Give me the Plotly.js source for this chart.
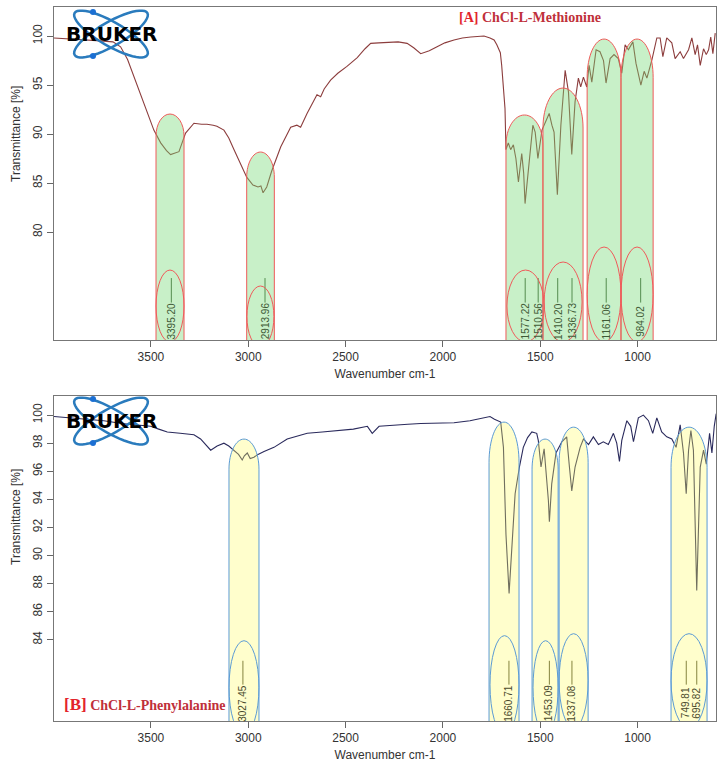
<!DOCTYPE html>
<html>
<head>
<meta charset="utf-8">
<script src="https://cdn.plot.ly/plotly-3.0.1.min.js"></script>
<style>
  html, body { margin: 0; padding: 0; background: #fff; }
  #chart { width: 719px; height: 762px; }
</style>
</head>
<body>
<div id="chart"></div>
<script>
// [A] ChCl-L-Methionine spectrum (wavenumber cm-1 / transmittance %)
const wnA = [3998, 3900, 3760, 3695, 3656, 3620, 3587, 3536, 3485, 3450, 3420, 3399, 3380, 3356, 3322, 3279,
  3240, 3212, 3180, 3161, 3125, 3100, 3073, 3040, 3008, 2976, 2950, 2935, 2924, 2905, 2880, 2833, 2782, 2750,
  2731, 2698, 2647, 2628, 2610, 2577, 2540, 2493, 2440, 2400, 2371, 2330, 2287, 2230, 2184, 2150, 2114, 2070,
  2030, 1990, 1943, 1900, 1857, 1820, 1789, 1758, 1737, 1723, 1705, 1698, 1690, 1681, 1676, 1664, 1652, 1638,
  1625, 1612, 1595, 1585, 1578, 1561, 1538, 1526, 1512, 1491, 1474, 1454, 1440, 1429, 1412, 1394, 1372, 1355,
  1338, 1321, 1304, 1292, 1278, 1261, 1249, 1235, 1213, 1193, 1175, 1162, 1141, 1121, 1099, 1081, 1064, 1047,
  1024, 1008, 983, 966, 952, 926, 901, 884, 870, 850, 824, 807, 781, 764, 738, 721, 704, 692, 678, 661, 647,
  635, 624, 613, 601];
const tA = [99.8, 99.7, 99.5, 99.4, 98.9, 97.6, 95.8, 93.2, 90.4, 89.1, 88.3, 87.9, 88.0, 88.2, 90.1, 91.1,
  91.0, 91.0, 90.9, 90.8, 90.4, 89.6, 88.4, 87.0, 85.6, 84.8, 84.6, 84.7, 84.0, 84.6, 86.2, 88.7, 90.7, 90.9,
  90.7, 92.1, 94.0, 93.8, 94.6, 95.5, 96.2, 96.9, 97.8, 98.7, 99.25, 99.3, 99.35, 99.4, 99.25, 98.8, 98.2, 98.5,
  98.9, 99.3, 99.6, 99.8, 99.9, 99.95, 100.0, 99.8, 99.6, 99.1, 98.3, 97.0, 94.8, 92.6, 88.4, 89.1, 88.4, 88.9,
  87.5, 85.1, 88.0, 86.0, 82.9, 86.2, 90.9, 90.2, 87.5, 90.4, 91.1, 92.1, 90.9, 90.2, 83.8, 90.9, 96.5, 94.3,
  87.9, 93.3, 95.7, 94.8, 95.8, 94.8, 97.0, 95.3, 98.6, 98.4, 97.5, 95.2, 97.7, 98.1, 97.7, 96.2, 99.1, 98.6,
  99.4, 97.2, 95.0, 96.4, 95.7, 97.6, 99.8, 99.8, 97.9, 99.8, 99.3, 97.7, 98.4, 97.7, 98.6, 99.8, 98.1, 99.1,
  97.0, 98.7, 98.1, 98.6, 99.9, 98.2, 100.3];

// [B] ChCl-L-Phenylalanine spectrum
const wnB = [3998, 3900, 3742, 3650, 3580, 3502, 3460, 3416, 3350, 3279, 3245, 3193, 3160, 3125, 3100, 3073,
  3050, 3031, 3020, 3005, 2990, 2971, 2950, 2919, 2868, 2800, 2750, 2697, 2620, 2543, 2460, 2388, 2363, 2328,
  2250, 2180, 2114, 2030, 1943, 1861, 1800, 1772, 1758, 1735, 1715, 1703, 1689, 1676, 1660, 1646, 1629, 1607,
  1587, 1565, 1543, 1518, 1510, 1496, 1480, 1458, 1453, 1441, 1419, 1389, 1364, 1350, 1338, 1321, 1295, 1278,
  1252, 1227, 1201, 1176, 1150, 1124, 1107, 1093, 1081, 1055, 1035, 1021, 996, 970, 944, 922, 901, 876, 850,
  824, 802, 781, 764, 750, 738, 726, 713, 696, 678, 661, 647, 630, 618, 606, 596];
const tB = [99.9, 99.8, 99.6, 99.4, 99.3, 99.2, 99.0, 98.8, 98.7, 98.6, 98.3, 97.5, 97.8, 98.0, 97.8, 97.5,
  97.2, 96.8, 97.1, 97.3, 96.9, 97.0, 97.2, 97.4, 97.7, 98.3, 98.5, 98.7, 98.8, 98.9, 99.0, 99.2, 98.7, 99.2,
  99.3, 99.35, 99.4, 99.4, 99.45, 99.6, 99.8, 99.9, 99.9, 99.7, 99.6, 99.5, 97.7, 91.5, 87.3, 90.4, 94.4, 96.3,
  97.7, 98.4, 98.8, 98.7, 98.2, 96.3, 97.6, 93.9, 92.4, 95.1, 97.3, 98.1, 98.45, 96.3, 94.6, 96.3, 97.7, 98.3,
  97.9, 98.45, 97.9, 98.1, 97.9, 98.7, 98.0, 96.7, 98.2, 99.6, 99.2, 98.1, 99.8, 100.0, 99.6, 98.7, 99.8, 98.8, 98.45,
  98.3, 97.7, 99.3, 97.3, 94.4, 97.5, 98.9, 97.5, 87.5, 96.3, 97.5, 96.5, 98.7, 97.3, 99.2, 100.1];

// labelled peaks
const peaksA = [3395.20, 2913.96, 1577.22, 1510.56, 1410.20, 1336.73, 1161.06, 984.02];
const peaksB = [3027.45, 1660.71, 1453.09, 1337.08, 749.81, 695.82];

const xTicks = [3500, 3000, 2500, 2000, 1500, 1000];
const yTicksA = [80, 85, 90, 95, 100];
const yTicksB = [84, 86, 88, 90, 92, 94, 96, 98, 100];

// highlight bands: [left wn, right wn, top, cap height] and label ovals: [left, right, top, bottom]
const bandsA = [[3474, 3330, 92.04, 2.24], [3008, 2866, 88.16, 2.55], [1676, 1486, 91.94, 3.06],
  [1486, 1280, 94.69, 4.08], [1259, 1085, 99.69, 3.9], [1085, 920, 99.69, 3.9]];
const ovalsA = [[3474, 3330, 76.12, 68.78], [3007, 2868, 74.49, 68.27], [1671, 1480, 76.12, 68.78],
  [1480, 1285, 76.94, 68.78], [1259, 1085, 78.47, 68.78], [1085, 920, 78.47, 68.78]];
const bandsB = [[3099, 2945, 98.29, 2.14], [1763, 1609, 99.5, 2.86], [1542, 1408, 98.29, 2.14],
  [1403, 1254, 99.14, 2.5], [828, 643, 99.14, 2.86]];
const ovalsB = [[3099, 2945, 83.93, 77.29], [1758, 1609, 84.29, 77.29], [1537, 1408, 83.93, 77.29],
  [1403, 1254, 84.43, 77.71], [828, 643, 84.43, 77.71]];

const FONT = 'Liberation Sans, Arial, sans-serif';
const PLOT = { l: 54, t: 7, w: 662, h: 714 };

// pixel -> paper helpers for the logo decoration
const px = x => (x - PLOT.l) / PLOT.w;
const py = y => 1 - (y - PLOT.t) / PLOT.h;

function pill(b, xref, yref, yBot, fill, line) {
  const [x0, x1, yTop, cap] = b;
  const k = 0.5523, xm = (x0 + x1) / 2, yc = yTop - cap;
  const path = `M${x0},${yBot} L${x0},${yc} C${x0},${yc + k * cap} ${xm + (x0 - xm) * k},${yTop} ${xm},${yTop} ` +
    `C${xm + (x1 - xm) * k},${yTop} ${x1},${yc + k * cap} ${x1},${yc} L${x1},${yBot} Z`;
  return { type: 'path', xref, yref, path, fillcolor: fill, line: { color: line, width: 1 }, layer: 'above' };
}

function oval(o, xref, yref, line) {
  return { type: 'circle', xref, yref, x0: o[0], x1: o[1], y0: o[3], y1: o[2],
    fillcolor: 'rgba(0,0,0,0)', line: { color: line, width: 1 }, layer: 'above' };
}

function orbit(cx, cy, a, b, angDeg) {
  const r = angDeg * Math.PI / 180;
  let d = '';
  for (let i = 0; i <= 48; i++) {
    const t = i / 48 * 2 * Math.PI;
    const x = cx + a * Math.cos(t) * Math.cos(r) - b * Math.sin(t) * Math.sin(r);
    const y = cy + a * Math.cos(t) * Math.sin(r) + b * Math.sin(t) * Math.cos(r);
    d += (i ? ' L' : 'M') + px(x).toFixed(4) + ',' + py(y).toFixed(4);
  }
  return { type: 'path', xref: 'paper', yref: 'paper', path: d + ' Z',
    line: { color: '#2a7bbd', width: 2.5 }, layer: 'above' };
}

function dot(x, y) {
  return { type: 'circle', xref: 'paper', yref: 'paper', x0: px(x - 3), x1: px(x + 3), y0: py(y + 3), y1: py(y - 3),
    fillcolor: '#1b6fd3', line: { width: 0 }, layer: 'above' };
}

function logo(cy) {
  return [orbit(111, cy, 42, 12, 30), orbit(111, cy, 42, 12, -30), dot(93, cy - 22), dot(93, cy + 22)];
}

function markTrace(peaks, y0, y1, xa, ya, color) {
  const x = [], y = [];
  peaks.forEach(p => { x.push(p, p, null); y.push(y0, y1, null); });
  return { x, y, xaxis: xa, yaxis: ya, type: 'scatter', mode: 'lines', line: { color, width: 1 },
    hoverinfo: 'skip', showlegend: false };
}

const traces = [
  { x: wnA, y: tA, xaxis: 'x', yaxis: 'y', type: 'scatter', mode: 'lines', name: 'ChCl-L-Methionine',
    line: { color: '#8c3d3d', width: 1.1 }, showlegend: false },
  { x: wnB, y: tB, xaxis: 'x2', yaxis: 'y2', type: 'scatter', mode: 'lines', name: 'ChCl-L-Phenylalanine',
    line: { color: '#2a2a5c', width: 1.1 }, showlegend: false },
  markTrace(peaksA, 75.3, 72.8, 'x', 'y', '#3f5a36'),
  markTrace(peaksB, 82.5, 80.8, 'x2', 'y2', '#4a4a2c')
];

const axisX = {
  range: [3998, 597], tickvals: xTicks, ticks: 'outside', ticklen: 6, tickcolor: '#666',
  showline: true, mirror: true, linecolor: '#777', linewidth: 1, showgrid: false, zeroline: false,
  tickfont: { family: FONT, size: 12, color: '#333' },
  title: { text: 'Wavenumber cm-1', font: { family: FONT, size: 12, color: '#333' }, standoff: 6 }
};
const axisY = {
  ticks: 'outside', ticklen: 6, tickcolor: '#666', tickangle: -90,
  showline: true, mirror: true, linecolor: '#777', linewidth: 1, showgrid: false, zeroline: false,
  tickfont: { family: FONT, size: 12, color: '#333' }
};

const shapes = []
  .concat(bandsA.map(b => pill(b, 'x', 'y', 60, 'rgba(117,217,117,0.4)', '#f05a5a')))
  .concat(ovalsA.map(o => oval(o, 'x', 'y', '#f05a5a')))
  .concat(bandsB.map(b => pill(b, 'x2', 'y2', 70, 'rgba(255,252,100,0.33)', '#5b9bd5')))
  .concat(ovalsB.map(o => oval(o, 'x2', 'y2', '#5b9bd5')))
  .concat(logo(34), logo(421));

const annotations = [];
peaksA.forEach(p => annotations.push({ x: p, y: 70.9, xref: 'x', yref: 'y', text: p.toFixed(2), textangle: -90,
  xanchor: 'center', yanchor: 'middle', showarrow: false, font: { family: FONT, size: 10, color: '#3f5a36' } }));
peaksB.forEach(p => annotations.push({ x: p, y: 79.5, xref: 'x2', yref: 'y2', text: p.toFixed(2), textangle: -90,
  xanchor: 'center', yanchor: 'middle', showarrow: false, font: { family: FONT, size: 10, color: '#4a4a2c' } }));

[34, 421].forEach(cy => annotations.push({ x: px(111), y: py(cy), xref: 'paper', yref: 'paper', showarrow: false,
  xanchor: 'center', yanchor: 'middle', text: 'BRUKER',
  font: { family: 'DejaVu Sans, sans-serif', size: 20, color: '#000', weight: 'bold' } }));

annotations.push({ x: px(530), y: py(18), xref: 'paper', yref: 'paper', showarrow: false,
  xanchor: 'center', yanchor: 'middle',
  text: '<span style="color:#e3242b">[A]</span> ChCl-L-Methionine',
  font: { family: 'Liberation Serif, Times New Roman, serif', size: 14, color: '#c0303a', weight: 'bold' } });
annotations.push({ x: px(62), y: py(704), xref: 'paper', yref: 'paper', xanchor: 'left', yanchor: 'middle',
  showarrow: false,
  text: '<span style="color:#e3242b;font-size:17px">[B]</span> ChCl-L-Phenylalanine',
  font: { family: 'Liberation Serif, Times New Roman, serif', size: 14, color: '#c0303a', weight: 'bold' } });

[134, 517].forEach(cy => annotations.push({ x: px(16), y: py(cy), xref: 'paper', yref: 'paper', showarrow: false,
  xanchor: 'center', yanchor: 'middle',
  textangle: -90, text: 'Transmittance [%]', font: { family: FONT, size: 12, color: '#333' } }));

const layout = {
  width: 719, height: 762,
  margin: { l: 54, r: 3, t: 7, b: 41 },
  paper_bgcolor: '#fff', plot_bgcolor: '#fff',
  showlegend: false,
  xaxis: Object.assign({}, axisX, { anchor: 'y', domain: [0, 1] }),
  yaxis: Object.assign({}, axisY, { anchor: 'x', domain: [0.5336, 1], range: [68.98, 102.96], tickvals: yTicksA }),
  xaxis2: Object.assign({}, axisX, { anchor: 'y2', domain: [0, 1] }),
  yaxis2: Object.assign({}, axisY, { anchor: 'x2', domain: [0, 0.4552], range: [78.21, 101.36], tickvals: yTicksB }),
  shapes, annotations
};

Plotly.newPlot('chart', traces, layout, { displayModeBar: false, staticPlot: true });
</script>
</body>
</html>
